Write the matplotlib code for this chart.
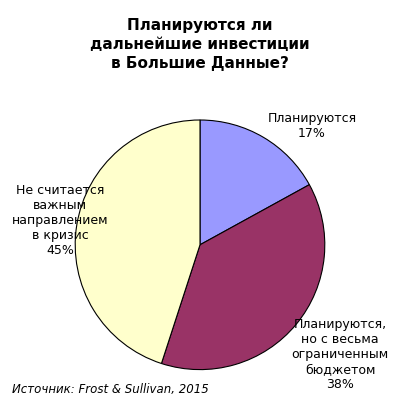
import matplotlib.pyplot as plt

labels = ["Планируются\n17%", "Планируются,\nно с весьма\nограниченным\nбюджетом\n38%", "Не считается\nважным\nнаправлением\nв кризис\n45%"]
values = [17, 38, 45]
colors = ["#9999FF", "#993366", "#FFFFCC"]

fig = plt.figure(figsize=(4, 4.08), dpi=100)
ax = fig.add_axes([0.11, 0.017, 0.78, 0.766])
ax.pie(values, colors=colors, startangle=90, counterclock=False,
       wedgeprops=dict(edgecolor="black", linewidth=0.8))
ax.set_aspect("equal")

fig.text(0.5, 0.955, "Планируются ли\nдальнейшие инвестиции\nв Большие Данные?", ha="center", va="top",
         fontsize=11, fontweight="bold", linespacing=1.3)
fig.text(0.78, 0.69, labels[0], ha="center", va="center", fontsize=9)
fig.text(0.85, 0.13, labels[1], ha="center", va="center", fontsize=9)
fig.text(0.15, 0.46, labels[2], ha="center", va="center", fontsize=9)
fig.text(0.03, 0.045, "Источник: Frost & Sullivan, 2015", ha="left", va="center", fontsize=8.5, style="italic")
fig.savefig("out.png", dpi=100, facecolor="white")
